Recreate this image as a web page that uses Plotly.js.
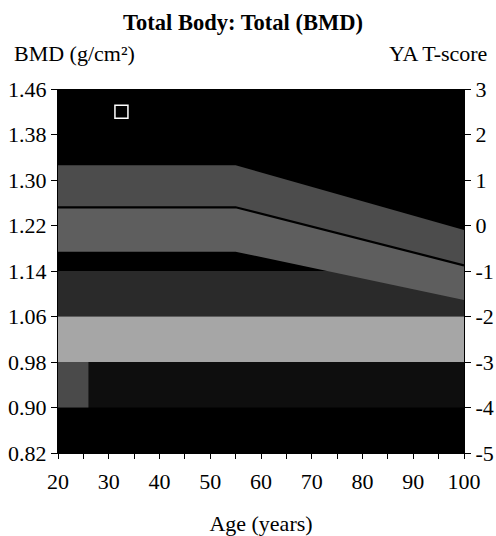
<!DOCTYPE html>
<html>
<head>
<meta charset="utf-8">
<script src="https://cdn.plot.ly/plotly-3.0.1.min.js"></script>
<style>html,body{margin:0;padding:0;background:#fff;}#chart{width:496px;height:536px;}</style>
</head>
<body>
<div id="chart"></div>
<script>
// ---- data ----
const curveAges = [20, 55, 100];
const sdUpper   = [1.326, 1.326, 1.212];
const refMean   = [1.252, 1.252, 1.150];
const sdLower   = [1.174, 1.174, 1.089];

const zoneAges   = [20, 100];
const zoneBounds = [1.14, 1.06, 0.98, 0.90];   // BMD at T = -1, -2, -3, -4
const youngAges  = [20, 26];                    // lighter patch in the -3..-4 zone

const patientAge = [32.5];
const patientBmd = [1.42];

const ageTicks  = [20, 30, 40, 50, 60, 70, 80, 90, 100];
const bmdTicks  = [0.82, 0.90, 0.98, 1.06, 1.14, 1.22, 1.30, 1.38, 1.46];
const tTicks    = [-5, -4, -3, -2, -1, 0, 1, 2, 3];

// ---- helpers ----
function band(xs, top, bottom, color, name) {
  const x = xs.concat(xs.slice().reverse());
  const y = top.concat(bottom.slice().reverse());
  return {x: x, y: y, type: 'scatter', mode: 'lines', fill: 'toself',
          fillcolor: color, line: {width: 0, color: color}, hoverinfo: 'skip',
          showlegend: false, name: name};
}
function flat(xs, v) { return xs.map(() => v); }

const traces = [
  band(zoneAges, flat(zoneAges, zoneBounds[0]), flat(zoneAges, zoneBounds[1]), '#2a2a2a', 'T -1..-2'),
  band(zoneAges, flat(zoneAges, zoneBounds[1]), flat(zoneAges, zoneBounds[2]), '#a6a6a6', 'T -2..-3'),
  band(zoneAges, flat(zoneAges, zoneBounds[2]), flat(zoneAges, zoneBounds[3]), '#0e0e0e', 'T -3..-4'),
  band(youngAges, flat(youngAges, zoneBounds[2]), flat(youngAges, zoneBounds[3]), '#4a4a4a', 'young'),
  band(curveAges, sdUpper, refMean, '#4c4c4c', '+1SD'),
  band(curveAges, refMean, sdLower, '#5e5e5e', '-1SD'),
  {x: curveAges, y: refMean, type: 'scatter', mode: 'lines',
   line: {color: '#000', width: 2.2}, hoverinfo: 'skip', showlegend: false},
  {x: patientAge, y: patientBmd, type: 'scatter', mode: 'markers',
   marker: {symbol: 'square-open', size: 13, color: '#fff', line: {width: 1.5, color: '#fff'}},
   showlegend: false},
  {x: [20, 100], y: [tTicks[0], tTicks[tTicks.length-1]], yaxis: 'y2', type: 'scatter',
   mode: 'markers', marker: {opacity: 0}, hoverinfo: 'skip', showlegend: false}
];

const font = {family: '"Liberation Serif", "Times New Roman", serif', size: 22, color: '#000'};

const layout = {
  width: 496, height: 536,
  margin: {l: 58, r: 32, t: 89, b: 83, pad: 0},
  paper_bgcolor: '#fff', plot_bgcolor: '#000',
  font: font,
  showlegend: false,
  title: {text: '<b>Total Body: Total (BMD)</b>', font: {family: font.family, size: 22.5, color: '#000'},
          x: 0.49, xref: 'container', xanchor: 'center', y: 1 - 22/536, yref: 'container', yanchor: 'middle'},
  xaxis: {range: [20, 100], tickmode: 'array', tickvals: ageTicks, ticktext: ageTicks.map(String),
          ticks: 'outside', ticklen: 5, tickwidth: 1, tickcolor: '#000', ticklabelstandoff: 4,
          minor: {dtick: 5, tick0: 20, ticks: 'outside', ticklen: 5, tickcolor: '#000', showgrid: false},
          showgrid: false, zeroline: false, showline: true, linecolor: '#000', linewidth: 1,
          title: {text: 'Age (years)', font: font, standoff: 22}, fixedrange: true},
  yaxis: {range: [0.82, 1.46], tickmode: 'array', tickvals: bmdTicks, ticktext: bmdTicks.map(v => v.toFixed(2)),
          ticks: 'outside', ticklen: 6, tickcolor: '#000', showgrid: false, zeroline: false,
          showline: true, linecolor: '#000', fixedrange: true},
  yaxis2: {range: [-5, 3], overlaying: 'y', side: 'right', tickmode: 'array', tickvals: tTicks,
           ticktext: tTicks.map(String), ticks: 'outside', ticklen: 6, tickcolor: '#000',
           showgrid: false, zeroline: false, showline: true, linecolor: '#000', fixedrange: true},
  annotations: [
    {text: 'BMD (g/cm²)', xref: 'paper', yref: 'paper', x: (12 - 58)/406, y: (453 - 54)/364,
     xanchor: 'left', yanchor: 'middle', showarrow: false, font: font},
    {text: 'YA T-score', xref: 'paper', yref: 'paper', x: (489 - 58)/406, y: (453 - 54)/364,
     xanchor: 'right', yanchor: 'middle', showarrow: false, font: font}
  ]
};

Plotly.newPlot('chart', traces, layout, {displayModeBar: false, staticPlot: true});
</script>
</body>
</html>
